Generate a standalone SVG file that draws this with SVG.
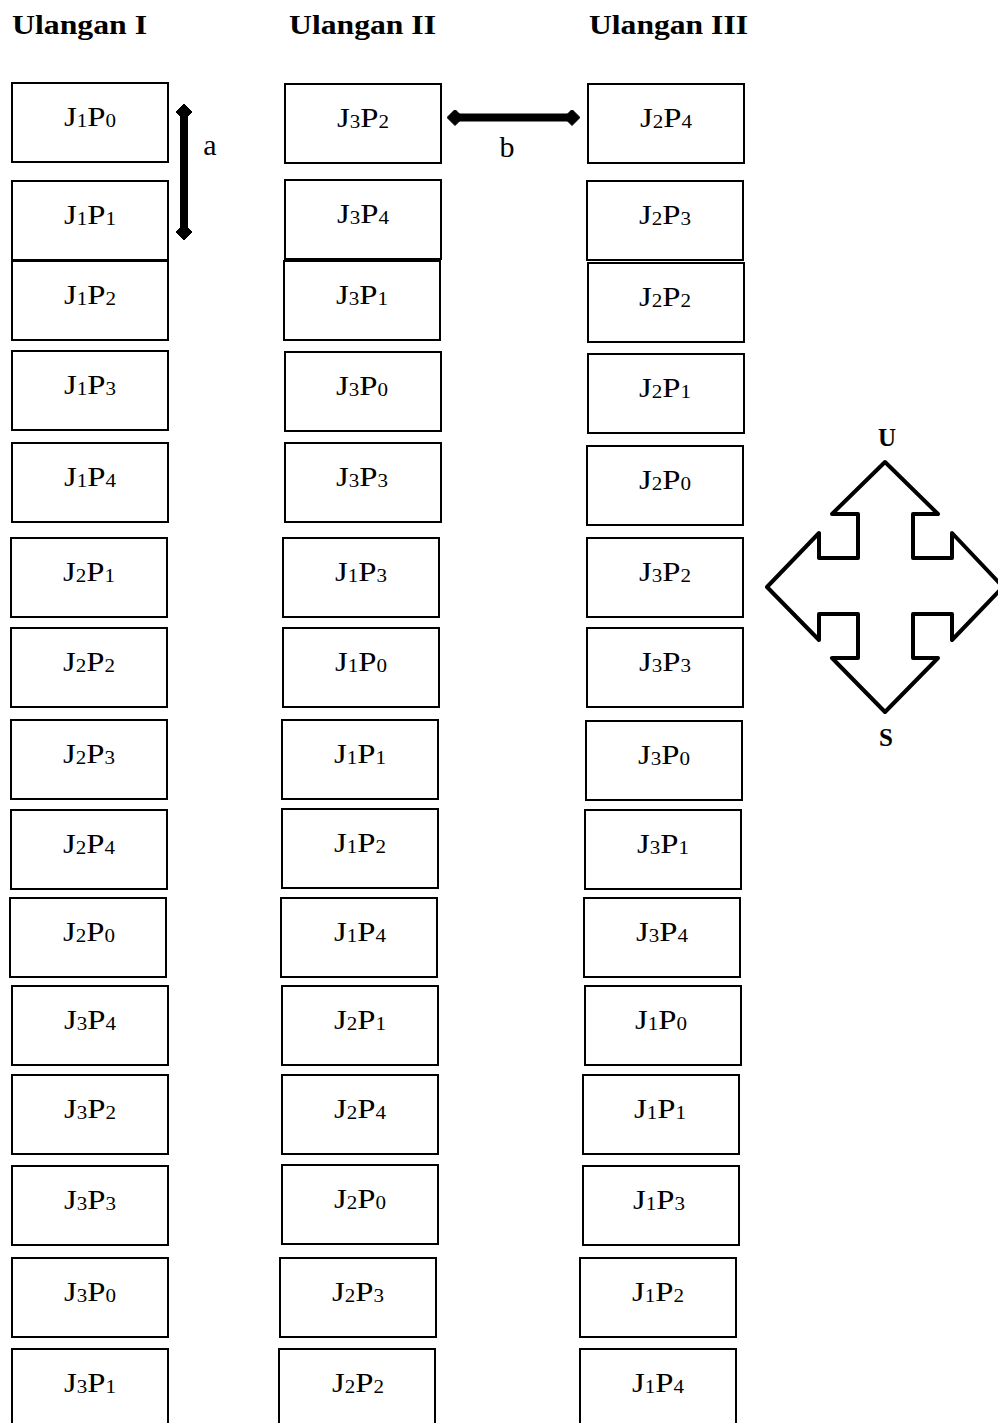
<svg xmlns="http://www.w3.org/2000/svg" width="998" height="1423" viewBox="0 0 998 1423">
<style>
.box{fill:#fff;stroke:#000;stroke-width:2}
.lbl{font-family:"Liberation Serif","Times New Roman",serif;font-size:28px;fill:#000;text-anchor:middle}
.s{font-size:18px}
.hdr{font-family:"Liberation Serif","Times New Roman",serif;font-size:28px;font-weight:bold;fill:#000}
.cl{font-family:"Liberation Serif","Times New Roman",serif;font-size:25px;font-weight:bold;fill:#000;text-anchor:middle}
.ll{font-family:"Liberation Serif","Times New Roman",serif;font-size:30px;fill:#000;text-anchor:middle}
.arr{stroke:#000;stroke-width:8;fill:none}
</style>
<defs>
<marker id="dia" viewBox="0 0 16 16" refX="8" refY="8" markerWidth="16" markerHeight="16" markerUnits="userSpaceOnUse" orient="auto"><path d="M0,8 L8,0 L16,8 L8,16 Z" fill="#000" stroke="#000" stroke-width="1" stroke-linejoin="round"/></marker>
</defs>
<rect width="998" height="1423" fill="#fff"/>
<g id="headers">
<text class="hdr" x="12" y="34" textLength="135" lengthAdjust="spacingAndGlyphs">Ulangan I</text>
<text class="hdr" x="289" y="34" textLength="147" lengthAdjust="spacingAndGlyphs">Ulangan II</text>
<text class="hdr" x="589" y="34" textLength="159" lengthAdjust="spacingAndGlyphs">Ulangan III</text>
</g>
<g id="col1">
<g id="c1r1"><rect class="box" x="12" y="83" width="156" height="79"/><text class="lbl" x="90" y="125.5" textLength="52" lengthAdjust="spacingAndGlyphs">J<tspan class="s" dy="1">1</tspan><tspan dy="-1">P</tspan><tspan class="s" dy="1">0</tspan></text></g>
<g id="c1r2"><rect class="box" x="12" y="181" width="156" height="79"/><text class="lbl" x="90" y="223.5" textLength="52" lengthAdjust="spacingAndGlyphs">J<tspan class="s" dy="1">1</tspan><tspan dy="-1">P</tspan><tspan class="s" dy="1">1</tspan></text></g>
<g id="c1r3"><rect class="box" x="12" y="261" width="156" height="79"/><text class="lbl" x="90" y="303.5" textLength="52" lengthAdjust="spacingAndGlyphs">J<tspan class="s" dy="1">1</tspan><tspan dy="-1">P</tspan><tspan class="s" dy="1">2</tspan></text></g>
<g id="c1r4"><rect class="box" x="12" y="351" width="156" height="79"/><text class="lbl" x="90" y="393.5" textLength="52" lengthAdjust="spacingAndGlyphs">J<tspan class="s" dy="1">1</tspan><tspan dy="-1">P</tspan><tspan class="s" dy="1">3</tspan></text></g>
<g id="c1r5"><rect class="box" x="12" y="443" width="156" height="79"/><text class="lbl" x="90" y="485.5" textLength="52" lengthAdjust="spacingAndGlyphs">J<tspan class="s" dy="1">1</tspan><tspan dy="-1">P</tspan><tspan class="s" dy="1">4</tspan></text></g>
<g id="c1r6"><rect class="box" x="11" y="538" width="156" height="79"/><text class="lbl" x="89" y="580.5" textLength="52" lengthAdjust="spacingAndGlyphs">J<tspan class="s" dy="1">2</tspan><tspan dy="-1">P</tspan><tspan class="s" dy="1">1</tspan></text></g>
<g id="c1r7"><rect class="box" x="11" y="628" width="156" height="79"/><text class="lbl" x="89" y="670.5" textLength="52" lengthAdjust="spacingAndGlyphs">J<tspan class="s" dy="1">2</tspan><tspan dy="-1">P</tspan><tspan class="s" dy="1">2</tspan></text></g>
<g id="c1r8"><rect class="box" x="11" y="720" width="156" height="79"/><text class="lbl" x="89" y="762.5" textLength="52" lengthAdjust="spacingAndGlyphs">J<tspan class="s" dy="1">2</tspan><tspan dy="-1">P</tspan><tspan class="s" dy="1">3</tspan></text></g>
<g id="c1r9"><rect class="box" x="11" y="810" width="156" height="79"/><text class="lbl" x="89" y="852.5" textLength="52" lengthAdjust="spacingAndGlyphs">J<tspan class="s" dy="1">2</tspan><tspan dy="-1">P</tspan><tspan class="s" dy="1">4</tspan></text></g>
<g id="c1r10"><rect class="box" x="10" y="898" width="156" height="79"/><text class="lbl" x="89" y="940.5" textLength="52" lengthAdjust="spacingAndGlyphs">J<tspan class="s" dy="1">2</tspan><tspan dy="-1">P</tspan><tspan class="s" dy="1">0</tspan></text></g>
<g id="c1r11"><rect class="box" x="12" y="986" width="156" height="79"/><text class="lbl" x="90" y="1028.5" textLength="52" lengthAdjust="spacingAndGlyphs">J<tspan class="s" dy="1">3</tspan><tspan dy="-1">P</tspan><tspan class="s" dy="1">4</tspan></text></g>
<g id="c1r12"><rect class="box" x="12" y="1075" width="156" height="79"/><text class="lbl" x="90" y="1117.5" textLength="52" lengthAdjust="spacingAndGlyphs">J<tspan class="s" dy="1">3</tspan><tspan dy="-1">P</tspan><tspan class="s" dy="1">2</tspan></text></g>
<g id="c1r13"><rect class="box" x="12" y="1166" width="156" height="79"/><text class="lbl" x="90" y="1208.5" textLength="52" lengthAdjust="spacingAndGlyphs">J<tspan class="s" dy="1">3</tspan><tspan dy="-1">P</tspan><tspan class="s" dy="1">3</tspan></text></g>
<g id="c1r14"><rect class="box" x="12" y="1258" width="156" height="79"/><text class="lbl" x="90" y="1300.5" textLength="52" lengthAdjust="spacingAndGlyphs">J<tspan class="s" dy="1">3</tspan><tspan dy="-1">P</tspan><tspan class="s" dy="1">0</tspan></text></g>
<g id="c1r15"><rect class="box" x="12" y="1349" width="156" height="79"/><text class="lbl" x="90" y="1391.5" textLength="52" lengthAdjust="spacingAndGlyphs">J<tspan class="s" dy="1">3</tspan><tspan dy="-1">P</tspan><tspan class="s" dy="1">1</tspan></text></g>
</g>
<g id="col2">
<g id="c2r1"><rect class="box" x="285" y="84" width="156" height="79"/><text class="lbl" x="363" y="127" textLength="52" lengthAdjust="spacingAndGlyphs">J<tspan class="s" dy="1">3</tspan><tspan dy="-1">P</tspan><tspan class="s" dy="1">2</tspan></text></g>
<g id="c2r2"><rect class="box" x="285" y="180" width="156" height="79"/><text class="lbl" x="363" y="223" textLength="52" lengthAdjust="spacingAndGlyphs">J<tspan class="s" dy="1">3</tspan><tspan dy="-1">P</tspan><tspan class="s" dy="1">4</tspan></text></g>
<g id="c2r3"><rect class="box" x="284" y="261" width="156" height="79"/><text class="lbl" x="362" y="304" textLength="52" lengthAdjust="spacingAndGlyphs">J<tspan class="s" dy="1">3</tspan><tspan dy="-1">P</tspan><tspan class="s" dy="1">1</tspan></text></g>
<g id="c2r4"><rect class="box" x="285" y="352" width="156" height="79"/><text class="lbl" x="362" y="395" textLength="52" lengthAdjust="spacingAndGlyphs">J<tspan class="s" dy="1">3</tspan><tspan dy="-1">P</tspan><tspan class="s" dy="1">0</tspan></text></g>
<g id="c2r5"><rect class="box" x="285" y="443" width="156" height="79"/><text class="lbl" x="362" y="486" textLength="52" lengthAdjust="spacingAndGlyphs">J<tspan class="s" dy="1">3</tspan><tspan dy="-1">P</tspan><tspan class="s" dy="1">3</tspan></text></g>
<g id="c2r6"><rect class="box" x="283" y="538" width="156" height="79"/><text class="lbl" x="361" y="581" textLength="52" lengthAdjust="spacingAndGlyphs">J<tspan class="s" dy="1">1</tspan><tspan dy="-1">P</tspan><tspan class="s" dy="1">3</tspan></text></g>
<g id="c2r7"><rect class="box" x="283" y="628" width="156" height="79"/><text class="lbl" x="361" y="671" textLength="52" lengthAdjust="spacingAndGlyphs">J<tspan class="s" dy="1">1</tspan><tspan dy="-1">P</tspan><tspan class="s" dy="1">0</tspan></text></g>
<g id="c2r8"><rect class="box" x="282" y="720" width="156" height="79"/><text class="lbl" x="360" y="763" textLength="52" lengthAdjust="spacingAndGlyphs">J<tspan class="s" dy="1">1</tspan><tspan dy="-1">P</tspan><tspan class="s" dy="1">1</tspan></text></g>
<g id="c2r9"><rect class="box" x="282" y="809" width="156" height="79"/><text class="lbl" x="360" y="852" textLength="52" lengthAdjust="spacingAndGlyphs">J<tspan class="s" dy="1">1</tspan><tspan dy="-1">P</tspan><tspan class="s" dy="1">2</tspan></text></g>
<g id="c2r10"><rect class="box" x="281" y="898" width="156" height="79"/><text class="lbl" x="360" y="941" textLength="52" lengthAdjust="spacingAndGlyphs">J<tspan class="s" dy="1">1</tspan><tspan dy="-1">P</tspan><tspan class="s" dy="1">4</tspan></text></g>
<g id="c2r11"><rect class="box" x="282" y="986" width="156" height="79"/><text class="lbl" x="360" y="1029" textLength="52" lengthAdjust="spacingAndGlyphs">J<tspan class="s" dy="1">2</tspan><tspan dy="-1">P</tspan><tspan class="s" dy="1">1</tspan></text></g>
<g id="c2r12"><rect class="box" x="282" y="1075" width="156" height="79"/><text class="lbl" x="360" y="1118" textLength="52" lengthAdjust="spacingAndGlyphs">J<tspan class="s" dy="1">2</tspan><tspan dy="-1">P</tspan><tspan class="s" dy="1">4</tspan></text></g>
<g id="c2r13"><rect class="box" x="282" y="1165" width="156" height="79"/><text class="lbl" x="360" y="1208" textLength="52" lengthAdjust="spacingAndGlyphs">J<tspan class="s" dy="1">2</tspan><tspan dy="-1">P</tspan><tspan class="s" dy="1">0</tspan></text></g>
<g id="c2r14"><rect class="box" x="280" y="1258" width="156" height="79"/><text class="lbl" x="358" y="1301" textLength="52" lengthAdjust="spacingAndGlyphs">J<tspan class="s" dy="1">2</tspan><tspan dy="-1">P</tspan><tspan class="s" dy="1">3</tspan></text></g>
<g id="c2r15"><rect class="box" x="279" y="1349" width="156" height="79"/><text class="lbl" x="358" y="1392" textLength="52" lengthAdjust="spacingAndGlyphs">J<tspan class="s" dy="1">2</tspan><tspan dy="-1">P</tspan><tspan class="s" dy="1">2</tspan></text></g>
</g>
<g id="col3">
<g id="c3r1"><rect class="box" x="588" y="84" width="156" height="79"/><text class="lbl" x="666" y="127" textLength="52" lengthAdjust="spacingAndGlyphs">J<tspan class="s" dy="1">2</tspan><tspan dy="-1">P</tspan><tspan class="s" dy="1">4</tspan></text></g>
<g id="c3r2"><rect class="box" x="587" y="181" width="156" height="79"/><text class="lbl" x="665" y="224" textLength="52" lengthAdjust="spacingAndGlyphs">J<tspan class="s" dy="1">2</tspan><tspan dy="-1">P</tspan><tspan class="s" dy="1">3</tspan></text></g>
<g id="c3r3"><rect class="box" x="588" y="263" width="156" height="79"/><text class="lbl" x="665" y="306" textLength="52" lengthAdjust="spacingAndGlyphs">J<tspan class="s" dy="1">2</tspan><tspan dy="-1">P</tspan><tspan class="s" dy="1">2</tspan></text></g>
<g id="c3r4"><rect class="box" x="588" y="354" width="156" height="79"/><text class="lbl" x="665" y="397" textLength="52" lengthAdjust="spacingAndGlyphs">J<tspan class="s" dy="1">2</tspan><tspan dy="-1">P</tspan><tspan class="s" dy="1">1</tspan></text></g>
<g id="c3r5"><rect class="box" x="587" y="446" width="156" height="79"/><text class="lbl" x="665" y="489" textLength="52" lengthAdjust="spacingAndGlyphs">J<tspan class="s" dy="1">2</tspan><tspan dy="-1">P</tspan><tspan class="s" dy="1">0</tspan></text></g>
<g id="c3r6"><rect class="box" x="587" y="538" width="156" height="79"/><text class="lbl" x="665" y="581" textLength="52" lengthAdjust="spacingAndGlyphs">J<tspan class="s" dy="1">3</tspan><tspan dy="-1">P</tspan><tspan class="s" dy="1">2</tspan></text></g>
<g id="c3r7"><rect class="box" x="587" y="628" width="156" height="79"/><text class="lbl" x="665" y="671" textLength="52" lengthAdjust="spacingAndGlyphs">J<tspan class="s" dy="1">3</tspan><tspan dy="-1">P</tspan><tspan class="s" dy="1">3</tspan></text></g>
<g id="c3r8"><rect class="box" x="586" y="721" width="156" height="79"/><text class="lbl" x="664" y="764" textLength="52" lengthAdjust="spacingAndGlyphs">J<tspan class="s" dy="1">3</tspan><tspan dy="-1">P</tspan><tspan class="s" dy="1">0</tspan></text></g>
<g id="c3r9"><rect class="box" x="585" y="810" width="156" height="79"/><text class="lbl" x="663" y="853" textLength="52" lengthAdjust="spacingAndGlyphs">J<tspan class="s" dy="1">3</tspan><tspan dy="-1">P</tspan><tspan class="s" dy="1">1</tspan></text></g>
<g id="c3r10"><rect class="box" x="584" y="898" width="156" height="79"/><text class="lbl" x="662" y="941" textLength="52" lengthAdjust="spacingAndGlyphs">J<tspan class="s" dy="1">3</tspan><tspan dy="-1">P</tspan><tspan class="s" dy="1">4</tspan></text></g>
<g id="c3r11"><rect class="box" x="585" y="986" width="156" height="79"/><text class="lbl" x="661" y="1029" textLength="52" lengthAdjust="spacingAndGlyphs">J<tspan class="s" dy="1">1</tspan><tspan dy="-1">P</tspan><tspan class="s" dy="1">0</tspan></text></g>
<g id="c3r12"><rect class="box" x="583" y="1075" width="156" height="79"/><text class="lbl" x="660" y="1118" textLength="52" lengthAdjust="spacingAndGlyphs">J<tspan class="s" dy="1">1</tspan><tspan dy="-1">P</tspan><tspan class="s" dy="1">1</tspan></text></g>
<g id="c3r13"><rect class="box" x="583" y="1166" width="156" height="79"/><text class="lbl" x="659" y="1209" textLength="52" lengthAdjust="spacingAndGlyphs">J<tspan class="s" dy="1">1</tspan><tspan dy="-1">P</tspan><tspan class="s" dy="1">3</tspan></text></g>
<g id="c3r14"><rect class="box" x="580" y="1258" width="156" height="79"/><text class="lbl" x="658" y="1301" textLength="52" lengthAdjust="spacingAndGlyphs">J<tspan class="s" dy="1">1</tspan><tspan dy="-1">P</tspan><tspan class="s" dy="1">2</tspan></text></g>
<g id="c3r15"><rect class="box" x="580" y="1349" width="156" height="79"/><text class="lbl" x="658" y="1392" textLength="52" lengthAdjust="spacingAndGlyphs">J<tspan class="s" dy="1">1</tspan><tspan dy="-1">P</tspan><tspan class="s" dy="1">4</tspan></text></g>
</g>
<g id="connectors">
<line class="arr" x1="184" y1="112" x2="184" y2="232" marker-start="url(#dia)" marker-end="url(#dia)"/>
<text class="ll" x="210" y="155">a</text>
<line class="arr" x1="455" y1="117.5" x2="572" y2="117.5" marker-start="url(#dia)" marker-end="url(#dia)"/>
<text class="ll" x="507" y="157">b</text>
</g>
<g id="compass">
<polygon points="885,462 938,514 913,514 913,558 952,558 952,533 1003,587 952,640 952,614 913,614 913,658 938,658 885,712 832,658 858,658 858,614 819,614 819,640 767,587 819,533 819,558 858,558 858,514 832,514" fill="#fff" stroke="#000" stroke-width="4" stroke-linejoin="round"/>
<text class="cl" x="887" y="446">U</text>
<text class="cl" x="886" y="746">S</text>
</g>
</svg>
